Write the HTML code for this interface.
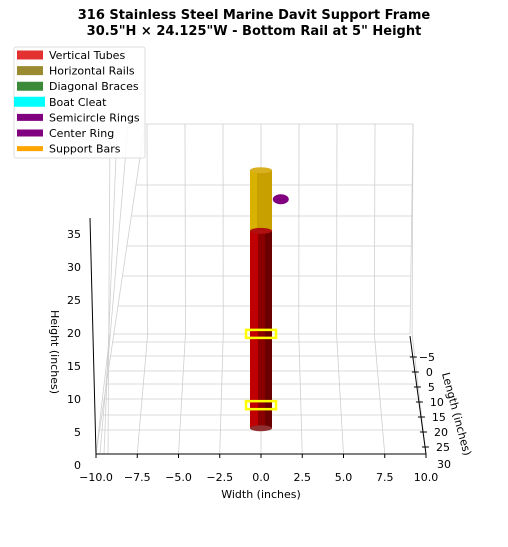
<!DOCTYPE html>
<html><head><meta charset="utf-8"><style>
body{margin:0;background:#fff;width:508px;height:542px;overflow:hidden}
svg{font-family:"DejaVu Sans","Liberation Sans",sans-serif}
</style></head><body>
<svg width="508" height="542" viewBox="0 0 508 542">
<text x="254" y="19" text-anchor="middle" font-size="13" font-weight="bold">316 Stainless Steel Marine Davit Support Frame</text>
<text x="254" y="35" text-anchor="middle" font-size="13" font-weight="bold">30.5"H × 24.125"W - Bottom Rail at 5" Height</text>
<g id="grid" stroke="#cfcfcf" stroke-width="0.8" fill="none"></g>
<g id="axes"></g>
<g id="marks"></g>
<g>
<rect x="14" y="47" width="131" height="111" rx="2" fill="#fff" fill-opacity="0.85" stroke="#ddd"/>
<g id="legend" font-size="11"></g>
</g>
</svg>
<script>
const NS="http://www.w3.org/2000/svg";
function mk(p,t,a){const e=document.createElementNS(NS,t);for(const k in a)e.setAttribute(k,a[k]);p.appendChild(e);return e;}
const widthTicks=[-10,-7.5,-5,-2.5,0,2.5,5,7.5,10];
const heightTicks=[0,5,10,15,20,25,30,35];
const lengthTicks=[-5,0,5,10,15,20,25,30];
const tubeBottom=3.9, tubeSplit=33.8, tubeTop=43;
const ringHeight=38.6;
const cleatHeights=[7.4,18.2];
const legendLabels=["Vertical Tubes","Horizontal Rails","Diagonal Braces","Boat Cleat","Semicircle Rings","Center Ring","Support Bars"];
const legendColors=["#e33030","#9a8a30","#3a8a3a","#00ffff","#800080","#800080","#ffa500"];
const legendWidths=[9,9,9,10,7,7,5];
const X=w=>261+w*16.5;
const Z=h=>454-h*6.6;
const L=l=>372+l*3;
const grid=document.getElementById('grid'),axes=document.getElementById('axes'),marks=document.getElementById('marks');
const backX=w=>261+w*15.2;
mk(grid,'polyline',{points:"145,124 413,124 410,334 113,334"});
widthTicks.slice(1).forEach(w=>{mk(grid,'line',{x1:backX(w),y1:124,x2:backX(w)-0.3*w/10*3,y2:334});});
[185,216,246,276,306].forEach(y=>mk(grid,'line',{x1:145-(y-124)*0.15,y1:y,x2:413-(y-124)*0.015,y2:y}));
[342,356,371,384,399,415,430].forEach((y,i)=>{const t=(y-334)/120;mk(grid,'line',{x1:113-17*t,y1:y,x2:410+16*t,y2:y});});
widthTicks.forEach(w=>mk(grid,'line',{x1:backX(w)-0.3*w/10*3,y1:334,x2:X(w),y2:454}));
[145,128,117,110].forEach((x,i)=>mk(grid,'line',{x1:x,y1:124+i*3,x2:96+i*4,y2:454}));
mk(axes,'line',{x1:96,y1:454,x2:426,y2:454,stroke:'#000'});
mk(axes,'line',{x1:96,y1:454,x2:90,y2:218,stroke:'#000'});
mk(axes,'line',{x1:410,y1:336,x2:426,y2:454,stroke:'#000'});
widthTicks.forEach(w=>{mk(axes,'line',{x1:X(w),y1:454,x2:X(w),y2:458,stroke:'#000'});
 const t=mk(axes,'text',{x:X(w),y:481,'text-anchor':'middle','font-size':11});t.textContent=(w<0?'−':'')+Math.abs(w).toFixed(1);
 });
heightTicks.forEach(h=>{const t=mk(axes,'text',{x:81,y:Z(h)+15,'text-anchor':'end','font-size':11});t.textContent=h;
 });
lengthTicks.forEach((l,i)=>{const y=L(l),x=410+(y-336)*0.135;
 if(y<454)mk(axes,'line',{x1:x-3,y1:y,x2:x+4,y2:y,stroke:'#000'});
 const t=mk(axes,'text',{x:x+(l<0?6:(l>=30?10:11)),y:y+(l>=30?6:4),'font-size':11});t.textContent=(l<0?'−':'')+Math.abs(l);
 });
let t=mk(axes,'text',{x:261,y:498,'text-anchor':'middle','font-size':11});t.textContent='Width (inches)';

t=mk(axes,'text',{x:51,y:352,'text-anchor':'middle','font-size':11,transform:'rotate(90 51 352)'});t.textContent='Height (inches)';

t=mk(axes,'text',{x:453,y:415,'text-anchor':'middle','font-size':11,transform:'rotate(75 453 415)'});t.textContent='Length (inches)';

const cx=X(0);
let e=mk(marks,'ellipse',{cx:X(1.2),cy:Z(ringHeight),rx:8,ry:5,fill:'#800080'});

e=mk(marks,'rect',{x:cx-11,y:Z(tubeTop),width:22,height:Z(tubeSplit)-Z(tubeTop),fill:'#c8a000'});

mk(marks,'rect',{x:cx-11,y:Z(tubeTop),width:7,height:Z(tubeSplit)-Z(tubeTop),fill:'#e0b800',opacity:0.7});
mk(marks,'ellipse',{cx:cx,cy:Z(tubeTop),rx:11,ry:3,fill:'#d8b020'});
e=mk(marks,'rect',{x:cx-11,y:Z(tubeSplit),width:22,height:Z(tubeBottom)-Z(tubeSplit),fill:'#8a0000'});

mk(marks,'rect',{x:cx-11,y:Z(tubeSplit),width:8,height:Z(tubeBottom)-Z(tubeSplit),fill:'#c00000'});
mk(marks,'rect',{x:cx+4,y:Z(tubeSplit),width:7,height:Z(tubeBottom)-Z(tubeSplit),fill:'#6a0000'});
mk(marks,'ellipse',{cx:cx,cy:Z(tubeSplit),rx:11,ry:3,fill:'#b01010'});
mk(marks,'ellipse',{cx:cx,cy:Z(tubeBottom),rx:11,ry:3,fill:'#903030'});
cleatHeights.forEach(h=>{const r=mk(marks,'rect',{x:cx-15,y:Z(h)-4,width:30,height:8,fill:'none',stroke:'#ffff00','stroke-width':2.5});
 });
const lg=document.getElementById('legend');
legendLabels.forEach((l,i)=>{const y=55+i*15.6;
 const ln=mk(lg,'line',{x1:i==3?14:17,y1:y,x2:i==3?45:43,y2:y,stroke:legendColors[i],'stroke-width':legendWidths[i]});
 
 const tx=mk(lg,'text',{x:49,y:y+4});tx.textContent=l;
 });
</script>
</body></html>
